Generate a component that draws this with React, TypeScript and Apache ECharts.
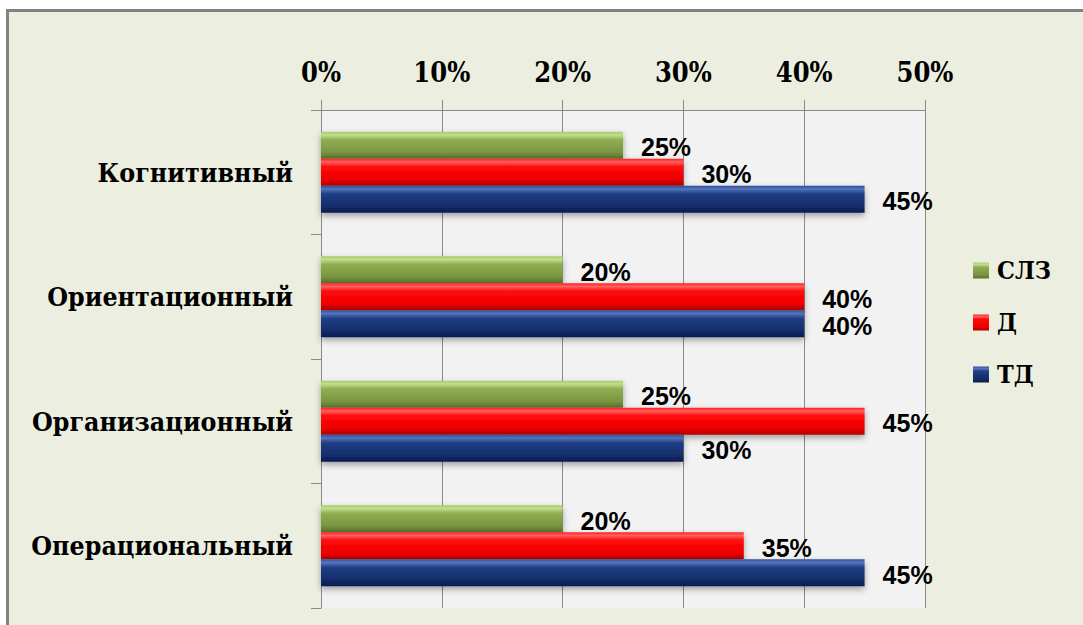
import React, { useEffect, useRef } from "react";
import * as echarts from "echarts";

const categories = ["Когнитивный", "Ориентационный", "Организационный", "Операциональный"];
const seriesNames = ["СЛЗ", "Д", "ТД"];
const slzValues = [25, 20, 25, 20];
const dValues = [30, 40, 45, 35];
const tdValues = [45, 40, 30, 45];
const axisMin = 0;
const axisMax = 50;
const axisStep = 10;

const SERIF = "'DejaVu Serif Condensed', 'DejaVu Serif', serif";

const grad = (stops: [number, string][]) =>
  new echarts.graphic.LinearGradient(0, 0, 0, 1, stops.map(([offset, color]) => ({ offset, color })));

const fills = [
  grad([[0, "#A9C86E"], [0.12, "#C2DE8A"], [0.3, "#8FAE52"], [0.75, "#7A9641"], [1, "#56702A"]]),
  grad([[0, "#FF2020"], [0.12, "#FF6060"], [0.3, "#FF0A0A"], [0.75, "#F00000"], [1, "#B00000"]]),
  grad([[0, "#2D4E96"], [0.12, "#5575BC"], [0.3, "#203F85"], [0.75, "#142D6C"], [1, "#0A1C4C"]]),
];

export default function App() {
  const ref = useRef<HTMLDivElement>(null);
  useEffect(() => {
    if (!ref.current) return;
    const chart = echarts.init(ref.current, null, { renderer: "svg" });
    const values = [slzValues, dValues, tdValues];
    chart.setOption({
      animation: false,
      backgroundColor: "#FFFFFF",
      graphic: [
        {
          type: "rect",
          z: -10,
          silent: true,
          shape: { x: 7.5, y: 10.5, width: 1200, height: 1000 },
          style: { fill: "#ECEFDF", stroke: "#828282", lineWidth: 3 },
        },
      ],
      grid: {
        left: 321,
        right: 158,
        top: 110,
        bottom: 17,
        show: true,
        backgroundColor: "#F2F2F2",
        borderWidth: 0,
      },
      legend: {
        orient: "vertical",
        left: 968,
        top: 253,
        itemWidth: 16,
        itemHeight: 16,
        itemGap: 27,
        icon: "rect",
        data: seriesNames,
        textStyle: {
          fontFamily: SERIF,
          fontWeight: "bold",
          fontSize: 25,
          color: "#000",
          padding: [0, 0, 0, 3],
        },
      },
      xAxis: {
        type: "value",
        position: "top",
        min: axisMin,
        max: axisMax,
        interval: axisStep,
        axisLine: { show: true, lineStyle: { color: "#8A8A8A", width: 1 } },
        axisTick: { show: true, length: 10, lineStyle: { color: "#8A8A8A" } },
        splitLine: { show: true, lineStyle: { color: "#8A8A8A", width: 1 } },
        axisLabel: {
          formatter: "{value}%",
          fontFamily: SERIF,
          fontWeight: "bold",
          fontSize: 27,
          color: "#000",
          margin: 24,
        },
      },
      yAxis: {
        type: "category",
        inverse: true,
        data: categories,
        axisLine: { show: true, lineStyle: { color: "#8A8A8A", width: 1 } },
        axisTick: { show: true, length: 10, lineStyle: { color: "#8A8A8A" } },
        axisLabel: {
          fontFamily: SERIF,
          fontWeight: "bold",
          fontSize: 26.5,
          color: "#000",
          margin: 28,
        },
      },
      series: seriesNames.map((name, i) => ({
        name,
        type: "bar",
        data: values[i],
        barGap: "0%",
        barCategoryGap: "35%",
        itemStyle: {
          color: fills[i],
          shadowColor: "rgba(0,0,0,0.35)",
          shadowBlur: 6,
          shadowOffsetY: 3,
        },
        label: {
          show: true,
          position: "right",
          distance: 18,
          formatter: "{c}%",
          fontFamily: "Liberation Sans",
          fontWeight: "bold",
          fontSize: 25,
          color: "#000",
          offset: [0, 2],
        },
      })),
    });
    return () => chart.dispose();
  }, []);
  return (
    <div
      ref={ref}
      style={{ position: "fixed", left: 0, top: 0, width: 1083, height: 625 }}
    />
  );
}
